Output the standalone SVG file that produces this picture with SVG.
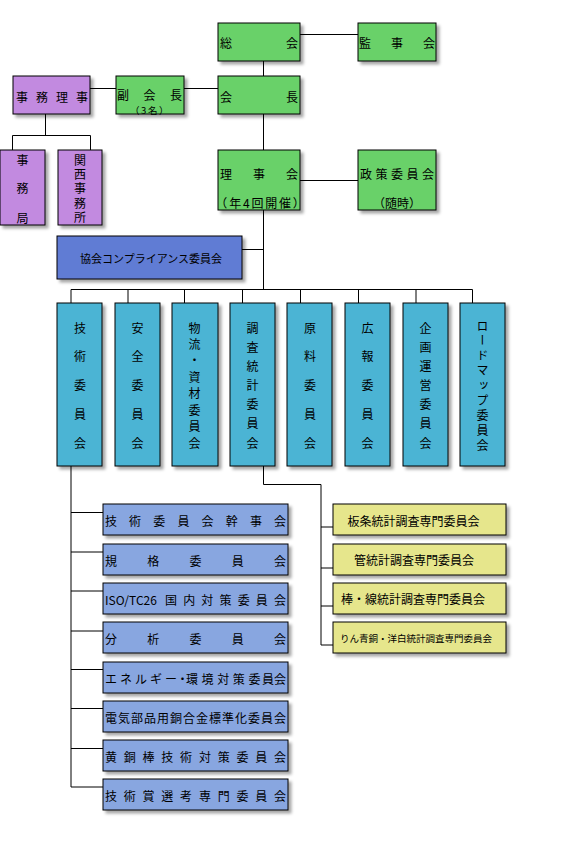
<svg xmlns="http://www.w3.org/2000/svg" width="566" height="848" viewBox="0 0 566 848">
<style>
text{font-family:"Noto Sans CJK JP","Noto Sans",sans-serif;font-size:12px;fill:#000}
.b{stroke:#000;stroke-width:1;filter:url(#sh)}
.g{fill:#69D169}
.p{fill:#C28AE0}
.c{fill:#4CB4D4}
.k{fill:#607CD4}
.l{fill:#88A6E0}
.y{fill:#E6E68C}
#connectors path{fill:none;stroke:#000;stroke-width:1}
.s{font-size:9.5px}
</style>
<defs>
<filter id="sh" x="-10%" y="-10%" width="130%" height="130%">
<feDropShadow dx="3" dy="3" stdDeviation="1.5" flood-color="#000" flood-opacity="0.35"/>
</filter>
</defs>
<rect width="566" height="848" fill="#fff"/>
<g id="connectors">
<path d="M300 34.5H358"/>
<path d="M263.5 61V76"/>
<path d="M90 88.5H116M184 88.5H218"/>
<path d="M45.5 114V135.5M12.5 150V135.5H90.5V150"/>
<path d="M263.5 114V150"/>
<path d="M300 180.5H358"/>
<path d="M263.5 210V289.5M242 249.5H263.5"/>
<path d="M71 303V289.5H472.5V303M128 289.5V303M184.5 289.5V303M242.5 289.5V303M300.5 289.5V303M358.5 289.5V303M416 289.5V303"/>
<path d="M71 466V787M71 512.5H103M71 552H103M71 591H103M71 631H103M71 669.5H103M71 708.5H103M71 748.5H103M71 787H103"/>
<path d="M263.5 466V484.5H321V645M321 527H333M321 568H333M321 606H333M321 645H333"/>
</g>
<g id="n-soukai"><rect class="b g" x="218" y="23" width="82" height="38"/><text x="220 286" y="47.5">総会</text></g>
<g id="n-kanjikai"><rect class="b g" x="358" y="23" width="78" height="38"/><text x="359 391 423" y="47.5">監事会</text></g>
<g id="n-kaicho"><rect class="b g" x="218" y="76" width="82" height="38"/><text x="220 286" y="101.5">会長</text></g>
<g id="n-fukukaicho"><rect class="b g" x="116" y="76" width="68" height="38"/><text x="117 143.5 170" y="99.5">副会長</text><text class="s" x="150" y="113.5" text-anchor="middle" letter-spacing="1.5">（3名）</text></g>
<g id="n-jimuriji"><rect class="b p" x="13" y="76" width="77" height="38"/><text x="16 36 56 76" y="101.5">事務理事</text></g>
<g id="n-jimukyoku"><rect class="b p" x="0" y="150" width="45" height="75"/><text x="22.5 22.5 22.5" y="164.5 193 222.5" text-anchor="middle">事務局</text></g>
<g id="n-kansai"><rect class="b p" x="58" y="150" width="44" height="75"/><text x="80 80 80 80 80" y="164.5 178.8 193.2 207.6 222" text-anchor="middle">関西事務所</text></g>
<g id="n-rijikai"><rect class="b g" x="218" y="150" width="82" height="60"/><text x="220 253 286" y="178.5">理事会</text><text x="261" y="207.5" text-anchor="middle" letter-spacing="1.8">（年4回開催）</text></g>
<g id="n-seisaku"><rect class="b g" x="358" y="150" width="78" height="60"/><text x="360 375.5 391 406.5 422" y="178.5">政策委員会</text><text x="397" y="207.5" text-anchor="middle">（随時）</text></g>
<g id="n-compliance"><rect class="b k" x="57" y="236" width="185" height="43"/><text x="151" y="262.5" text-anchor="middle" style="font-size:11px">協会コンプライアンス委員会</text></g>
<g id="n-gijutsu"><rect class="b c" x="57" y="303" width="45" height="163"/><text x="80 80 80 80 80" y="332.5 361.3 390 418.8 447.5" text-anchor="middle">技術委員会</text></g>
<g id="n-anzen"><rect class="b c" x="115" y="303" width="45" height="163"/><text x="137.5 137.5 137.5 137.5 137.5" y="332.5 361.3 390 418.8 447.5" text-anchor="middle">安全委員会</text></g>
<g id="n-butsuryu"><rect class="b c" x="172" y="303" width="46" height="163"/><text x="194.5 194.5 194.5 194.5 194.5 194.5 194.5 194.5" y="332.5 348.9 365.4 381.8 398.2 414.6 431.1 447.5" text-anchor="middle">物流・資材委員会</text></g>
<g id="n-chosa"><rect class="b c" x="230" y="303" width="45" height="163"/><text x="252.5 252.5 252.5 252.5 252.5 252.5 252.5" y="332.5 351.7 370.8 390 409.2 428.3 447.5" text-anchor="middle">調査統計委員会</text></g>
<g id="n-genryo"><rect class="b c" x="287" y="303" width="45" height="163"/><text x="310 310 310 310 310" y="332.5 361.3 390 418.8 447.5" text-anchor="middle">原料委員会</text></g>
<g id="n-koho"><rect class="b c" x="345" y="303" width="45" height="163"/><text x="367.5 367.5 367.5 367.5 367.5" y="332.5 361.3 390 418.8 447.5" text-anchor="middle">広報委員会</text></g>
<g id="n-kikaku"><rect class="b c" x="403" y="303" width="45" height="163"/><text x="425.5 425.5 425.5 425.5 425.5 425.5 425.5" y="332.5 351.7 370.8 390 409.2 428.3 447.5" text-anchor="middle">企画運営委員会</text></g>
<g id="n-roadmap"><rect class="b c" x="460" y="303" width="45" height="163"/><text x="482.5" y="320" style="writing-mode:vertical-rl" letter-spacing="2.9">ロードマップ委員会</text></g>
<g id="n-l1"><rect class="b l" x="103" y="504" width="185" height="31"/><text x="105 129.1 153.3 177.4 201.6 225.7 249.9 274" y="525.5">技術委員会幹事会</text></g>
<g id="n-l2"><rect class="b l" x="103" y="544" width="185" height="31"/><text x="105 147.3 189.5 231.8 274" y="565.5">規格委員会</text></g>
<g id="n-l3"><rect class="b l" x="103" y="583" width="185" height="31"/><text y="604.5"><tspan x="105">ISO/TC26</tspan><tspan x="165 183.2 201.3 219.5 237.7 255.8 274">国内対策委員会</tspan></text></g>
<g id="n-l4"><rect class="b l" x="103" y="622" width="185" height="31"/><text x="105 147.3 189.5 231.8 274" y="643.5">分析委員会</text></g>
<g id="n-l5"><rect class="b l" x="103" y="662" width="185" height="31"/><text x="105 120 135 150 165 176.5 186 201.6 217.2 232.8 248.4 262 274" y="683.5">エネルギー・環境対策委員会</text></g>
<g id="n-l6"><rect class="b l" x="103" y="701" width="185" height="31"/><text x="105 118 131 144 157 170 183 196 209 222 235 248 261 274" y="722.5">電気部品用銅合金標準化委員会</text></g>
<g id="n-l7"><rect class="b l" x="103" y="740" width="185" height="31"/><text x="105 123.8 142.6 161.3 180.1 198.9 217.7 236.4 255.2 274" y="761.5">黄銅棒技術対策委員会</text></g>
<g id="n-l8"><rect class="b l" x="103" y="779" width="185" height="31"/><text x="105 123.8 142.6 161.3 180.1 198.9 217.7 236.4 255.2 274" y="800.5">技術賞選考専門委員会</text></g>
<g id="n-r1"><rect class="b y" x="333" y="504" width="173" height="31"/><text x="413.5" y="526" text-anchor="middle">板条統計調査専門委員会</text></g>
<g id="n-r2"><rect class="b y" x="333" y="544" width="173" height="31"/><text x="414" y="565" text-anchor="middle">管統計調査専門委員会</text></g>
<g id="n-r3"><rect class="b y" x="333" y="583" width="173" height="31"/><text x="413" y="604" text-anchor="middle">棒・線統計調査専門委員会</text></g>
<g id="n-r4"><rect class="b y" x="333" y="622" width="173" height="31"/><text x="416" y="641.5" text-anchor="middle" style="font-size:9.5px">りん青銅・洋白統計調査専門委員会</text></g>
</svg>
